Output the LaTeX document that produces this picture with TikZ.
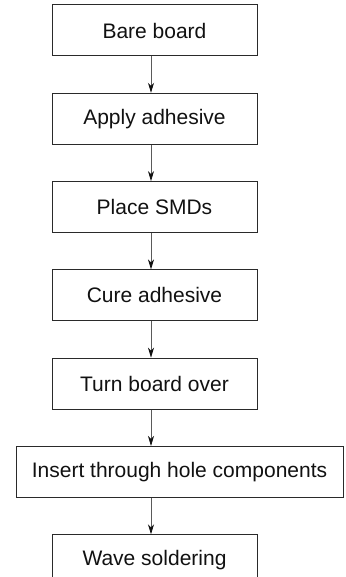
\documentclass[tikz,border=0pt]{standalone}
\usepackage{fontspec}
\setmainfont{Liberation Sans}
\usetikzlibrary{arrows.meta,positioning}
\definecolor{Ink}{HTML}{111111}
\definecolor{Frame}{HTML}{2A2A2A}
\definecolor{Wire}{HTML}{5A5A5A}
\tikzset{
  stepbox/.style={draw=Frame,line width=1pt,minimum width=205pt,minimum height=51pt,inner sep=0pt,align=center,font=\fontsize{21}{25}\selectfont,text=Ink},
  flow/.style={-{Stealth[length=10pt,width=6pt,inset=3pt,color=Ink]},draw=Wire,line width=0.8pt}
}

\begin{document}
\begin{tikzpicture}[x=1pt,y=1pt,node distance=36.3pt]
  \useasboundingbox (0,0) rectangle (345,-577);
  \node[stepbox] (bare) at (154.5,-30.5) {Bare board};
  \node[stepbox,below=of bare] (adhesive) {Apply adhesive};
  \node[stepbox,below=of adhesive] (place) {Place SMDs};
  \node[stepbox,below=of place] (cure) {Cure adhesive};
  \node[stepbox,below=of cure] (turn) {Turn board over};
  \node[stepbox,minimum width=327pt,below=of turn,xshift=25pt] (insert) {Insert through hole components};
  \node[stepbox,below=of insert,xshift=-25pt] (wave) {Wave soldering};
  \draw[flow] ([xshift=-3.5pt]bare.south) -- ([xshift=-3.5pt]adhesive.north);
  \draw[flow] ([xshift=-3.5pt]adhesive.south) -- ([xshift=-3.5pt]place.north);
  \draw[flow] ([xshift=-3.5pt]place.south) -- ([xshift=-3.5pt]cure.north);
  \draw[flow] ([xshift=-3.5pt]cure.south) -- ([xshift=-3.5pt]turn.north);
  \draw[flow] ([xshift=-3.5pt]turn.south) -- ([xshift=-3.5pt]turn.south |- insert.north);
  \draw[flow] ([xshift=-3.5pt]wave.north |- insert.south) -- ([xshift=-3.5pt]wave.north);
\end{tikzpicture}
\end{document}
